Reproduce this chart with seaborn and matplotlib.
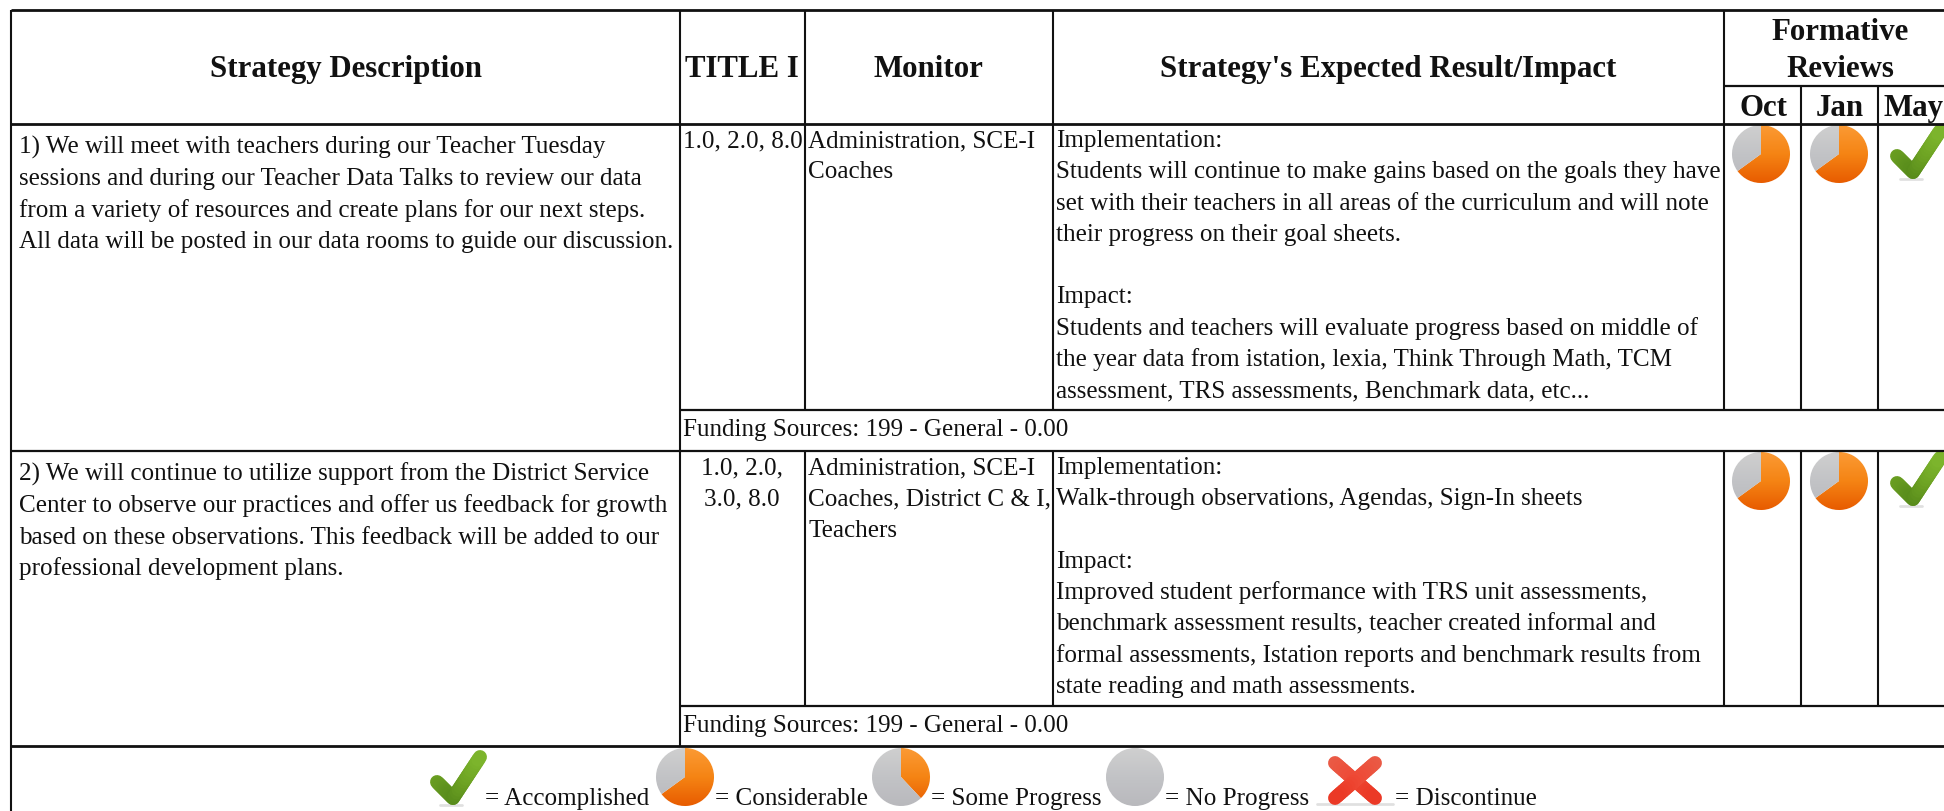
"""
Campus improvement plan table, strategy rows with formative review icons.
"""
import numpy as np
import matplotlib
matplotlib.use("Agg")
import matplotlib.pyplot as plt
import seaborn as sns

W, H = 1944, 811
BODY = 18.1
HEAD = 22.2

# ---- table content ----
headers = ["Strategy Description", "TITLE I", "Monitor", "Strategy's Expected Result/Impact"]
review_title = ["Formative", "Reviews"]
months = ["Oct", "Jan", "May"]

strategy_1 = [
    "1) We will meet with teachers during our Teacher Tuesday",
    "sessions and during our Teacher Data Talks to review our data",
    "from a variety of resources and create plans for our next steps.",
    "All data will be posted in our data rooms to guide our discussion.",
]
strategy_2 = [
    "2) We will continue to utilize support from the District Service",
    "Center to observe our practices and offer us feedback for growth",
    "based on these observations. This feedback will be added to our",
    "professional development plans.",
]
title_1 = ["1.0, 2.0, 8.0"]
title_2 = ["1.0, 2.0,", "3.0, 8.0"]
monitor_1 = ["Administration, SCE-I", "Coaches"]
monitor_2 = ["Administration, SCE-I", "Coaches, District C & I,", "Teachers"]
impact_1 = [
    "Implementation:",
    "Students will continue to make gains based on the goals they have",
    "set with their teachers in all areas of the curriculum and will note",
    "their progress on their goal sheets.",
    "",
    "Impact:",
    "Students and teachers will evaluate progress based on middle of",
    "the year data from istation, lexia, Think Through Math, TCM",
    "assessment, TRS assessments, Benchmark data, etc...",
]
impact_2 = [
    "Implementation:",
    "Walk-through observations, Agendas, Sign-In sheets",
    "",
    "Impact:",
    "Improved student performance with TRS unit assessments,",
    "benchmark assessment results, teacher created informal and",
    "formal assessments, Istation reports and benchmark results from",
    "state reading and math assessments.",
]
funding = "Funding Sources: 199 - General - 0.00"

# share of the pie that is done, None means a check mark
reviews_1 = [0.65, 0.65, None]
reviews_2 = [0.65, 0.65, None]

legend_labels = ["= Accomplished", "= Considerable", "= Some Progress", "= No Progress", "= Discontinue"]
considerable_share = 0.65
some_progress_share = 0.38
no_progress_share = 0.0

# ---- column and row edges, in pixels ----
col_x = [11, 680, 805, 1053, 1724, 1801, 1878]
row_top, row_sub, row_head, row_fund1, row_2, row_fund2, row_leg = 10, 86, 124, 410, 451, 706, 746

sns.set_theme(style="white")
plt.rcParams["font.family"] = ["Liberation Serif", "DejaVu Serif"]

fig = plt.figure(figsize=(W / 100, H / 100), dpi=100, facecolor="white")
ax = fig.add_axes([0, 0, 1, 1])

orange = sns.blend_palette(["#fb9a34", "#f58414", "#e85c00"], as_cmap=True)
gray = sns.blend_palette(["#cfcfcf", "#c2c3c6", "#b9b9bd"], as_cmap=True)
green = sns.blend_palette(["#7fb82e", "#6ea323", "#55881a"], n_colors=40)
red = sns.blend_palette(["#e8604a", "#ee4a36", "#e9321f"], n_colors=40)
ramp = np.linspace(0, 1, 64).reshape(-1, 1)


def hline(y, x0=col_x[0], x1=W, lw=1.6):
    ax.plot([x0, x1], [y, y], color="#111111", lw=lw, solid_capstyle="butt", zorder=3)


def vline(x, y0, y1, lw=1.5):
    ax.plot([x, x], [y0, y1], color="#111111", lw=lw, solid_capstyle="butt", zorder=3)


def lines(x, y, rows, step=31.3):
    for i, s in enumerate(rows):
        ax.text(x, y + i * step, s, fontsize=BODY, color="#111111", ha="left", va="baseline")


def pie(cx, cy, share, r=29):
    # gradient images clipped to each wedge
    wedges, _ = ax.pie([share, 1 - share], center=(cx, cy), radius=r, startangle=270,
                       counterclock=True, frame=True, colors=["#f58414", "#c4c4c6"])
    for wedge, cmap in zip(wedges, [orange, gray]):
        im = ax.imshow(ramp, cmap=cmap, extent=(cx - r, cx + r, cy + r, cy - r),
                       aspect="auto", origin="upper", zorder=2)
        im.set_clip_path(wedge)


def stroke(p0, p1, palette, y0, y1, lw):
    # short round-capped pieces so the colour follows the height
    ts = np.linspace(0, 1, 16)
    xs = p0[0] + (p1[0] - p0[0]) * ts
    ys = p0[1] + (p1[1] - p0[1]) * ts
    for i in range(len(ts) - 1):
        c = palette[int(np.clip((ys[i] - y0) / (y1 - y0), 0, 0.999) * len(palette))]
        ax.plot(xs[i:i + 2], ys[i:i + 2], color=c, lw=lw, solid_capstyle="round", zorder=2)


def shadow(x0, x1, y):
    ax.plot([x0, x1], [y, y], color="#d4d4d4", lw=2, alpha=0.7, solid_capstyle="round", zorder=1)


def check(vx, vy):
    top, bottom = vy - 44, vy + 4
    shadow(vx - 13, vx + 9, vy + 7)
    stroke((vx - 16, vy - 16), (vx, vy), green, top, bottom, 10)
    stroke((vx, vy), (vx + 27, vy - 41), green, top, bottom, 10)


def cross(cx, cy):
    shadow(cx - 38, cx + 38, cy + 24)
    stroke((cx - 20, cy - 17), (cx + 20, cy + 18), red, cy - 23, cy + 23, 10)
    stroke((cx + 20, cy - 17), (cx - 20, cy + 18), red, cy - 23, cy + 23, 10)


# ---- grid ----
hline(row_top, lw=2.0)
hline(row_sub, x0=col_x[4])
hline(row_head, lw=2.0)
hline(row_fund1, x0=col_x[1])
hline(row_2)
hline(row_fund2, x0=col_x[1])
hline(row_leg, lw=2.0)
vline(col_x[0], row_top, H)
vline(col_x[1], row_top, row_leg)
for x in col_x[2:5]:
    vline(x, row_top, row_fund1)
    vline(x, row_2, row_fund2)
for x in col_x[5:]:
    vline(x, row_sub, row_fund1)
    vline(x, row_2, row_fund2)

# ---- header ----
head_x = [346, 742, 928, 1388]
for x, s in zip(head_x, headers):
    ax.text(x, 77, s, fontsize=HEAD, fontweight="bold", ha="center", va="baseline", color="#111111")
for y, s in zip([40, 77], review_title):
    ax.text(1840, y, s, fontsize=HEAD, fontweight="bold", ha="center", va="baseline", color="#111111")
# May sits a little left of the reference so that it stays whole at the edge
for x, s, ha in zip([1763, 1840, 1883], months, ["center", "center", "left"]):
    ax.text(x, 116, s, fontsize=HEAD, fontweight="bold", ha=ha, va="baseline", color="#111111")

# ---- rows ----
lines(19, 154, strategy_1)
lines(19, 481, strategy_2)
lines(683, 147, title_1)
for i, s in enumerate(title_2):
    ax.text(742, 474 + i * 31.3, s, fontsize=BODY, ha="center", va="baseline", color="#111111")
lines(808, 147, monitor_1)
lines(808, 474, monitor_2)
lines(1056, 147, impact_1)
lines(1056, 474, impact_2)
lines(683, 436, [funding])
lines(683, 732, [funding])

for row_y, vals in zip([row_head, row_2], [reviews_1, reviews_2]):
    for x, share in zip([1761, 1839, 1913], vals):
        if share is None:
            check(x, row_y + 48)
        else:
            pie(x, row_y + 30, share)

# ---- legend ----
check(453, 798)
pie(685, 777, considerable_share)
pie(901, 777, some_progress_share)
pie(1135, 777, no_progress_share)
cross(1355, 780)
for x, s in zip([485, 715, 931, 1165, 1395], legend_labels):
    ax.text(x, 805, s, fontsize=BODY, ha="left", va="baseline", color="#111111")

ax.set_xlim(0, W)
ax.set_ylim(H, 0)
ax.set_aspect("auto")
ax.axis("off")
sns.despine(ax=ax, left=True, bottom=True)

fig.savefig("out.png", dpi=100, facecolor="white")
plt.close(fig)
